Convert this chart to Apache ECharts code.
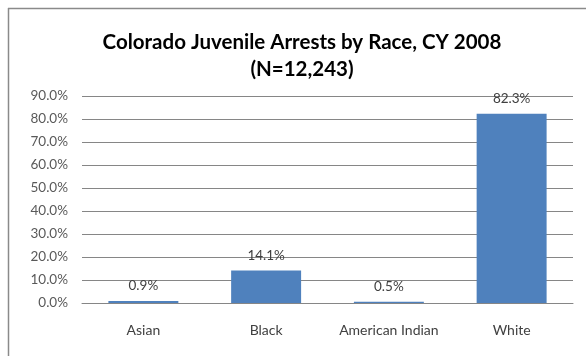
<!DOCTYPE html>
<html>
<head>
<meta charset="utf-8">
<script src="https://cdn.jsdelivr.net/npm/echarts@6/dist/echarts.min.js"></script>
<style>
html,body{margin:0;padding:0;background:#fff;}
#chart{width:586px;height:356px;}
</style>
</head>
<body>
<div id="chart"></div>
<script>
var categories = ["Asian", "Black", "American Indian", "White"];
var values = [0.9, 14.1, 0.5, 82.3];
var titleText = "Colorado Juvenile Arrests by Race, CY 2008\n(N=12,243)";
var yMin = 0, yMax = 90, yStep = 10;

var chart = echarts.init(document.getElementById('chart'), null, {renderer: 'canvas'});
chart.setOption({
  animation: false,
  backgroundColor: '#ffffff',
  title: {
    text: titleText,
    left: 297,
    textAlign: 'center',
    top: 24,
    textStyle: {fontFamily: 'Lato', fontWeight: 'bold', fontSize: 20.5, lineHeight: 27, color: '#000000'}
  },
  graphic: [
    {type: 'line', shape: {x1: 8, y1: 8.5, x2: 600, y2: 8.5}, style: {stroke: '#8a8a8a', lineWidth: 1.5}},
    {type: 'line', shape: {x1: 8.5, y1: 8, x2: 8.5, y2: 400}, style: {stroke: '#8a8a8a', lineWidth: 1.5}}
  ],
  grid: {left: 82, right: 13, top: 96, bottom: 53, containLabel: false},
  xAxis: {
    type: 'category',
    data: categories,
    axisLine: {show: true, lineStyle: {color: '#868686'}},
    axisTick: {show: false},
    axisLabel: {interval: 0, hideOverlap: false, fontFamily: 'Lato', fontSize: 14, color: '#404040', margin: 20}
  },
  yAxis: {
    type: 'value',
    min: yMin, max: yMax, interval: yStep,
    axisLine: {show: false},
    axisTick: {show: false},
    splitLine: {show: true, lineStyle: {color: '#868686', width: 1}},
    axisLabel: {
      fontFamily: 'Lato', fontSize: 13.5, color: '#595959', margin: 14,
      formatter: function (v) { return v.toFixed(1) + '%'; }
    }
  },
  series: [{
    type: 'bar',
    data: values,
    barWidth: '57%',
    itemStyle: {color: '#4F81BD'},
    label: {
      show: true, position: 'top', distance: 8,
      fontFamily: 'Lato', fontSize: 13.5, color: '#404040',
      formatter: function (p) { return p.value.toFixed(1) + '%'; }
    }
  }]
});
</script>
</body>
</html>
